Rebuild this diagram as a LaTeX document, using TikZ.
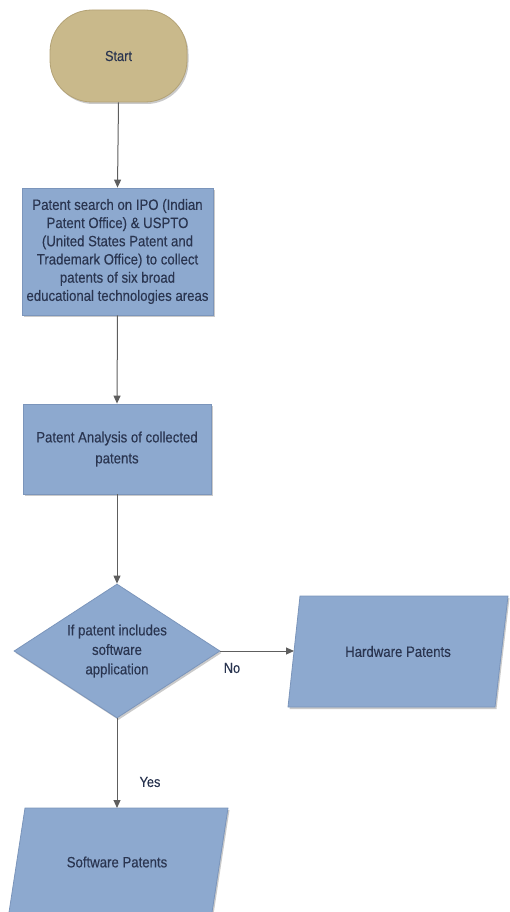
\documentclass[tikz,border=0pt]{standalone}
\usepackage{fontspec}
\setmainfont{Liberation Sans}[FakeStretch=0.88,FakeBold=0.25]
\usetikzlibrary{shapes.geometric,arrows.meta,shadows}
\definecolor{boxfill}{HTML}{8DA9CF}
\definecolor{boxline}{HTML}{7B95BB}
\definecolor{startfill}{HTML}{C9B98B}
\definecolor{startline}{HTML}{B3A275}
\definecolor{txt}{HTML}{2A3550}
\definecolor{conn}{HTML}{5E5E5E}
\tikzset{
  shadowed/.style={drop shadow={opacity=0.35,shadow xshift=1.5pt,shadow yshift=-2pt,fill=black!60}},
  procbox/.style={rectangle,draw=boxline,fill=boxfill,line width=0.8pt,shadowed,
    text=txt,align=center,inner sep=0pt,font=\fontsize{15}{18.2}\selectfont},
  termbox/.style={rectangle,rounded corners=42pt,draw=startline,fill=startfill,line width=0.8pt,shadowed,
    text=txt,font=\fontsize{14.5}{16}\selectfont},
  decbox/.style={diamond,aspect=1.54,draw=boxline,fill=boxfill,line width=0.8pt,shadowed,
    text=txt,align=center,inner sep=0pt,font=\fontsize{15}{19.5}\selectfont},
  ioshape/.style={draw=boxline,fill=boxfill,line width=0.8pt,shadowed},
  iotext/.style={text=txt,inner sep=0pt,font=\fontsize{15}{16}\selectfont},
  conn/.style={draw=conn,line width=1pt,-{Triangle[length=8pt,width=7pt]}},
  lbl/.style={text=txt,font=\fontsize{14.5}{16}\selectfont,inner sep=0pt}
}
\begin{document}
\begin{tikzpicture}[x=1pt,y=-1pt]
\useasboundingbox (0,0) rectangle (510,912);
\clip (0,0) rectangle (510,912);
\node[termbox,minimum width=137pt,minimum height=92pt] (start) at (118.5,56) {Start};
\node[procbox,minimum width=191pt,minimum height=127pt] (search) at (117.5,251.5)
  {Patent search on IPO (Indian\\Patent Office) \& USPTO\\(United States Patent and\\Trademark Office) to collect\\patents of six broad\\educational technologies areas};
\node[procbox,minimum width=188pt,minimum height=90pt,font=\fontsize{15}{21}\selectfont] (analysis) at (117,449)
  {Patent Analysis of collected\\patents};
\node[decbox,minimum width=206pt,minimum height=134pt] (dec) at (117,651)
  {If patent includes\\software\\application};
% hardware parallelogram
\path[ioshape] (300,596) -- (508,596) -- (495,707) -- (288,707) -- cycle;
\node[iotext] (hw) at (398,651.5) {Hardware Patents};
\coordinate (hwin) at (294,651);
% software parallelogram
\path[ioshape] (25,808) -- (228,808) -- (211,919) -- (8,919) -- cycle;
\node[iotext] (sw) at (117,862) {Software Patents};
\coordinate (swin) at (117,808);
\draw[conn] (start.south) -- (search.north);
\draw[conn] (search.south) -- (analysis.north);
\draw[conn] (analysis.south) -- (dec.north);
\draw[conn] (dec.east) -- (hwin);
\draw[conn] (dec.south) -- (swin);
\node[lbl] (no) at (232,668) {No};
\node[lbl] (yes) at (150,782) {Yes};
\end{tikzpicture}
\end{document}
